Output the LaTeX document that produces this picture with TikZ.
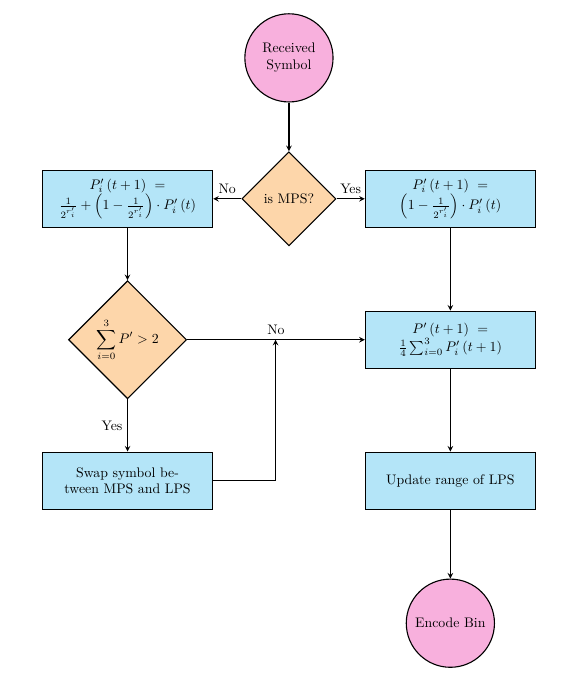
\documentclass[tikz,border=0pt]{standalone}
\usepackage{amsmath}
\usetikzlibrary{shapes.geometric, positioning}

\definecolor{termpink}{RGB}{248,176,221}
\definecolor{procblue}{RGB}{180,229,248}
\definecolor{decorange}{RGB}{253,214,170}

\begin{document}
\begin{tikzpicture}[node distance={3.58cm}, thick, >=stealth,
		term/.style = {draw, circle, fill=termpink, minimum size=2.24cm, align=center, inner sep=1pt},
		proc/.style = {draw, rectangle, fill=procblue, minimum width=4.32cm, minimum height=1.45cm, align=center},
		dec/.style = {draw, diamond, aspect=1, fill=decorange, inner sep=0pt}]
			\useasboundingbox (-7.34,1.47) rectangle (6.96,-15.93);
			\node[term] (1) {Received\\Symbol};
			\node[dec, minimum size=2.39cm] (2) [below of=1] {is MPS?};
			\node[proc] (3) [node distance=4.1cm, left of=2] {$P'_i\left(t+1\right)\ =$\\$\frac{1}{2^{r'_i}}+\left(1-\frac{1}{2^{r'_i}}\right)\cdot P'_i\left(t\right)$};
			\node[proc] (4) [node distance=4.1cm, right of=2] {$P'_i\left(t+1\right)\ =$\\$\left(1-\frac{1}{2^{r'_i}}\right)\cdot P'_i\left(t\right)$};
			\node[dec, minimum size=3cm] (5) [below of=3] {$\displaystyle\sum_{i=0}^{3} P' > 2$};
			\node[proc] (6) [below of=4] {$P'\left(t+1\right)\ =$\\$\frac{1}{4}\sum_{i=0}^{3} P'_i\left(t+1\right)$};
			\node[proc] (7) [below of=5] {Swap symbol be-\\tween MPS and LPS};
			\node[proc] (8) [below of=6] {Update range of LPS};
			\node[term] (9) [node distance=3.62cm, below of=8] {Encode Bin};
			\coordinate[node distance=3.76cm, right of=5] (j);
			\draw[->] (1) -- (2);
			\draw[->] (2) -- node[above] {No} (3);
			\draw[->] (2) -- node[above] {Yes} (4);
			\draw[->] (3) -- (5);
			\draw[->] (4) -- (6);
			\draw[->] (5) -- node[above] {No} (6);
			\draw[->] (5) -- node[left] {Yes} (7);
			\draw[->] (7) -| (j);
			\draw[->] (6) -- (8);
			\draw[->] (8) -- (9);
		\end{tikzpicture}
\end{document}
